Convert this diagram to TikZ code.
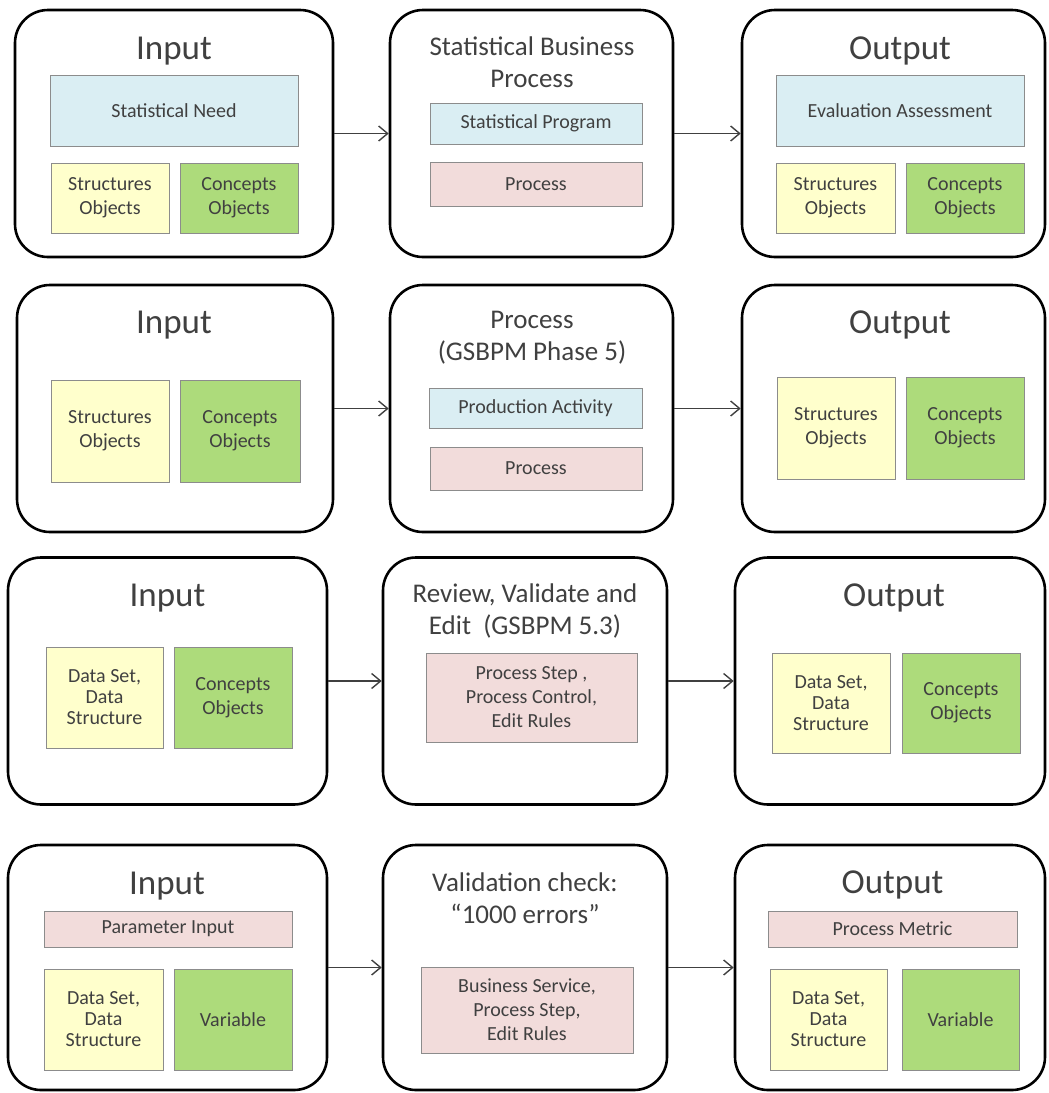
\documentclass[tikz,border=0pt]{standalone}
\usepackage{fontspec}
\setmainfont{Carlito}
\usetikzlibrary{arrows.meta}
\definecolor{needblue}{HTML}{DAEEF3}
\definecolor{structyellow}{HTML}{FFFFCC}
\definecolor{conceptgreen}{HTML}{ADDB7B}
\definecolor{procpink}{HTML}{F2DCDB}
\definecolor{textgray}{HTML}{404040}
\definecolor{boxgray}{HTML}{8C8C8C}

\begin{document}
\begin{tikzpicture}[
  x=1pt, y=-1pt, >={Straight Barb[length=9pt,width=15pt]},
  stage/.style={draw, line width=2.6pt, rounded corners=33pt,
    minimum width=#1, minimum height=247pt, inner sep=0pt},
  title/.style={text=textgray, font=\fontsize{35}{40}\selectfont, inner sep=0pt},
  midtitle/.style={text=textgray, align=center, font=\fontsize{27}{32}\selectfont, inner sep=0pt},
  wh/.style 2 args={minimum width=#1pt, minimum height=#2pt},
  obj/.style={draw=boxgray, line width=1pt, inner sep=0pt, text=textgray,
    align=center, font=\fontsize{20}{24}\selectfont},
  need/.style={obj, fill=needblue},
  struct/.style={obj, fill=structyellow},
  concept/.style={obj, fill=conceptgreen},
  proc/.style={obj, fill=procpink},
  flow/.style={->, draw=textgray, line width=1.4pt}
]
\useasboundingbox (0,0) rectangle (1049,1093);

% --- Row 1: statistical business process ---
\node[stage=318pt] (in1)  at (174,133.5)   {};
\node[stage=283pt] (mid1) at (531.5,133.5) {};
\node[stage=303pt] (out1) at (893.5,133.5) {};
\node[title] (in1t) at (174,51) {Input};
\node[need,wh={248}{71}]    (need1) at (174,110.5) {Statistical Need};
\node[struct,wh={118}{70}]  (str1)  at (110,198)   {Structures\\Objects};
\node[concept,wh={118}{70}] (con1)  at (239,198)   {Concepts\\Objects};
\node[midtitle] (mid1t) at (532,62) {Statistical Business\\Process};
\node[need,wh={212}{41}]    (prog1) at (536,123.5) {Statistical Program};
\node[proc,wh={212}{44}]    (proc1) at (536,184)   {Process};
\node[title] (out1t) at (900,51) {Output};
\node[need,wh={248}{71}]    (eval1) at (900,110.5) {Evaluation Assessment};
\node[struct,wh={119}{70}]  (str1o) at (835.5,198) {Structures\\Objects};
\node[concept,wh={118}{70}] (con1o) at (965,198)   {Concepts\\Objects};

% --- Row 2: GSBPM phase 5 ---
\node[stage=316pt] (in2)  at (175,408.5)   {};
\node[stage=283pt] (mid2) at (531.5,408.5) {};
\node[stage=303pt] (out2) at (893.5,408.5) {};
\node[title] (in2t) at (174,325) {Input};
\node[struct,wh={118}{102}]  (str2) at (110,431) {Structures\\Objects};
\node[concept,wh={120}{102}] (con2) at (240,431) {Concepts\\Objects};
\node[midtitle] (mid2t) at (532,338) {Process\\(GSBPM Phase 5)};
\node[need,wh={213}{40}]     (act2)  at (535.5,408) {Production Activity};
\node[proc,wh={212}{43}]     (proc2) at (536,468.5) {Process};
\node[title] (out2t) at (900,325) {Output};
\node[struct,wh={118}{102}]  (str2o) at (836,428) {Structures\\Objects};
\node[concept,wh={118}{102}] (con2o) at (965,428) {Concepts\\Objects};

% --- Row 3: review, validate and edit ---
\node[stage=319pt] (in3)  at (167.5,681) {};
\node[stage=284pt] (mid3) at (525,681)   {};
\node[stage=310pt] (out3) at (890,681)   {};
\node[title] (in3t) at (167.5,598) {Input};
\node[struct,wh={117}{101},font=\fontsize{20}{21}\selectfont] (ds3) at (104.5,697.5) {Data Set,\\Data\\Structure};
\node[concept,wh={118}{101}] (con3) at (233,697.5) {Concepts\\Objects};
\node[midtitle] (mid3t) at (525,611) {Review, Validate and\\Edit\ \ (GSBPM 5.3)};
\node[proc,wh={211}{89}] (step3) at (531.5,697.5) {Process Step ,\\Process Control,\\Edit Rules};
\node[title] (out3t) at (894,598) {Output};
\node[struct,wh={118}{100},font=\fontsize{20}{21}\selectfont] (ds3o) at (831,703) {Data Set,\\Data\\Structure};
\node[concept,wh={118}{100}] (con3o) at (961,703) {Concepts\\Objects};

% --- Row 4: validation check ---
\node[stage=319pt,minimum height=245pt] (in4)  at (167.5,967.5) {};
\node[stage=284pt,minimum height=245pt] (mid4) at (525,967.5)   {};
\node[stage=310pt,minimum height=245pt] (out4) at (890,967.5)   {};
\node[title] (in4t) at (167,886) {Input};
\node[proc,wh={248}{36}]     (par4) at (168,929) {Parameter Input};
\node[struct,wh={119}{101},font=\fontsize{20}{21}\selectfont] (ds4) at (103.5,1019.5) {Data Set,\\Data\\Structure};
\node[concept,wh={118}{101}] (var4) at (233,1019.5) {Variable};
\node[midtitle] (mid4t) at (525,898) {Validation check:\\“1000 errors”};
\node[proc,wh={212}{86}] (svc4) at (527,1010) {Business Service,\\Process Step,\\Edit Rules};
\node[title] (out4t) at (892.5,885) {Output};
\node[proc,wh={249}{36}]     (met4) at (892.5,929) {Process Metric};
\node[struct,wh={117}{101},font=\fontsize{20}{21}\selectfont] (ds4o) at (828.5,1019.5) {Data Set,\\Data\\Structure};
\node[concept,wh={117}{101}] (var4o) at (960.5,1019.5) {Variable};

% --- Flows ---
\path[flow]
  (in1) edge (mid1)  (mid1) edge (out1)
  (in2) edge (mid2)  (mid2) edge (out2)
  (in3) edge (mid3)  (mid3) edge (out3)
  (in4) edge (mid4)  (mid4) edge (out4);

\end{tikzpicture}
\end{document}
